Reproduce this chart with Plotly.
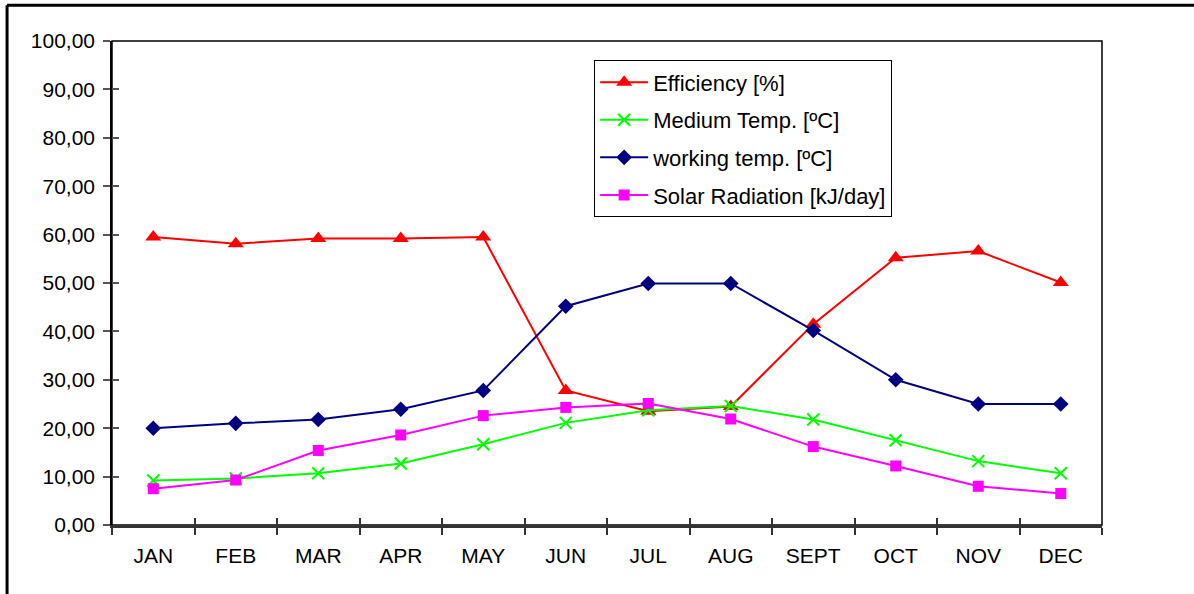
import plotly.graph_objects as go

months = ["JAN", "FEB", "MAR", "APR", "MAY", "JUN", "JUL", "AUG", "SEPT", "OCT", "NOV", "DEC"]
efficiency = [59.5, 58.1, 59.2, 59.2, 59.5, 27.8, 23.5, 24.5, 41.5, 55.2, 56.6, 50.1]
medium_temp = [9.2, 9.6, 10.7, 12.7, 16.7, 21.1, 23.7, 24.6, 21.8, 17.5, 13.2, 10.7]
working_temp = [20.0, 21.0, 21.8, 23.9, 27.8, 45.2, 49.9, 49.9, 40.2, 30.0, 25.0, 25.0]
solar_rad = [7.5, 9.3, 15.4, 18.6, 22.6, 24.3, 25.1, 21.9, 16.2, 12.2, 8.0, 6.5]
y_ticks = [0, 10, 20, 30, 40, 50, 60, 70, 80, 90, 100]

series = [
    ("Efficiency [%]", efficiency, "#FF0000", "triangle-up", 14, 0),
    ("Medium Temp. [ºC]", medium_temp, "#00FF00", "x-thin-open", 12, 2),
    ("working temp. [ºC]", working_temp, "#000080", "diamond", 12, 0),
    ("Solar Radiation [kJ/day]", solar_rad, "#FF00FF", "square", 11, 0),
]

fig = go.Figure()
for i, (name, vals, col, sym, size, mlw) in enumerate(series):
    fig.add_trace(go.Scatter(
        x=months, y=vals, name=name, mode="lines+markers",
        legendgroup=f"g{i}",
        line=dict(color=col, width=2),
        marker=dict(symbol=sym, size=size, color=col,
                    line=dict(color=col, width=mlw)),
    ))

# invisible trace for the overlay axes (inner half of crossing ticks)
fig.add_trace(go.Scatter(x=months, y=[None] * len(months), xaxis="x2", yaxis="y2",
                         showlegend=False, hoverinfo="skip"))

font_family = "Liberation Sans, Arial, sans-serif"
fig.update_layout(
    width=1194, height=594,
    margin=dict(l=112, r=92, t=41, b=69),
    paper_bgcolor="white", plot_bgcolor="white",
    separators=",.",
    font=dict(family=font_family, size=21, color="black"),
    showlegend=True,
    legend=dict(
        x=0.487, y=0.960, xanchor="left", yanchor="top",
        bgcolor="white", bordercolor="black", borderwidth=1,
        font=dict(size=22), tracegroupgap=6, itemwidth=48,
    ),
    xaxis=dict(
        type="category", range=[-0.5, 11.5], showgrid=False, zeroline=False,
        showline=True, linecolor="#333333", linewidth=2.5,
        ticks="outside", ticklen=7, tickcolor="#333333", tickwidth=1.5,
        tickson="boundaries", tickfont=dict(size=21), ticklabelstandoff=10,
    ),
    yaxis=dict(
        range=[0, 100], tickvals=y_ticks, tickformat=".2f", showgrid=False,
        zeroline=False, showline=True, linecolor="black", linewidth=1.5,
        ticks="outside", ticklen=7, tickcolor="#555555", tickwidth=1.5,
        tickfont=dict(size=21), ticklabelstandoff=4,
    ),
    xaxis2=dict(
        type="category", range=[-0.5, 11.5], overlaying="x", showgrid=False,
        zeroline=False, showline=False, showticklabels=False,
        ticks="inside", ticklen=7, tickcolor="#333333", tickwidth=1.5,
        tickson="boundaries", matches="x",
    ),
    yaxis2=dict(
        range=[0, 100], tickvals=y_ticks, overlaying="y", showgrid=False,
        zeroline=False, showline=False, showticklabels=False,
        ticks="inside", ticklen=7, tickcolor="#555555", tickwidth=1.5,
    ),
    shapes=[
        dict(type="rect", xref="paper", yref="paper", x0=0, x1=1, y0=0, y1=1,
             line=dict(color="black", width=1.5), layer="below"),
        dict(type="line", xref="paper", yref="paper", x0=-0.106, x1=1.2,
             y0=1.074, y1=1.074, line=dict(color="black", width=3)),
        dict(type="line", xref="paper", yref="paper", x0=-0.106, x1=-0.106,
             y0=1.074, y1=-0.3, line=dict(color="black", width=3)),
    ],
)

fig.write_html("out.html", config={"displayModeBar": False},
               post_script="document.body.style.margin='0';document.body.style.overflow='hidden';")
